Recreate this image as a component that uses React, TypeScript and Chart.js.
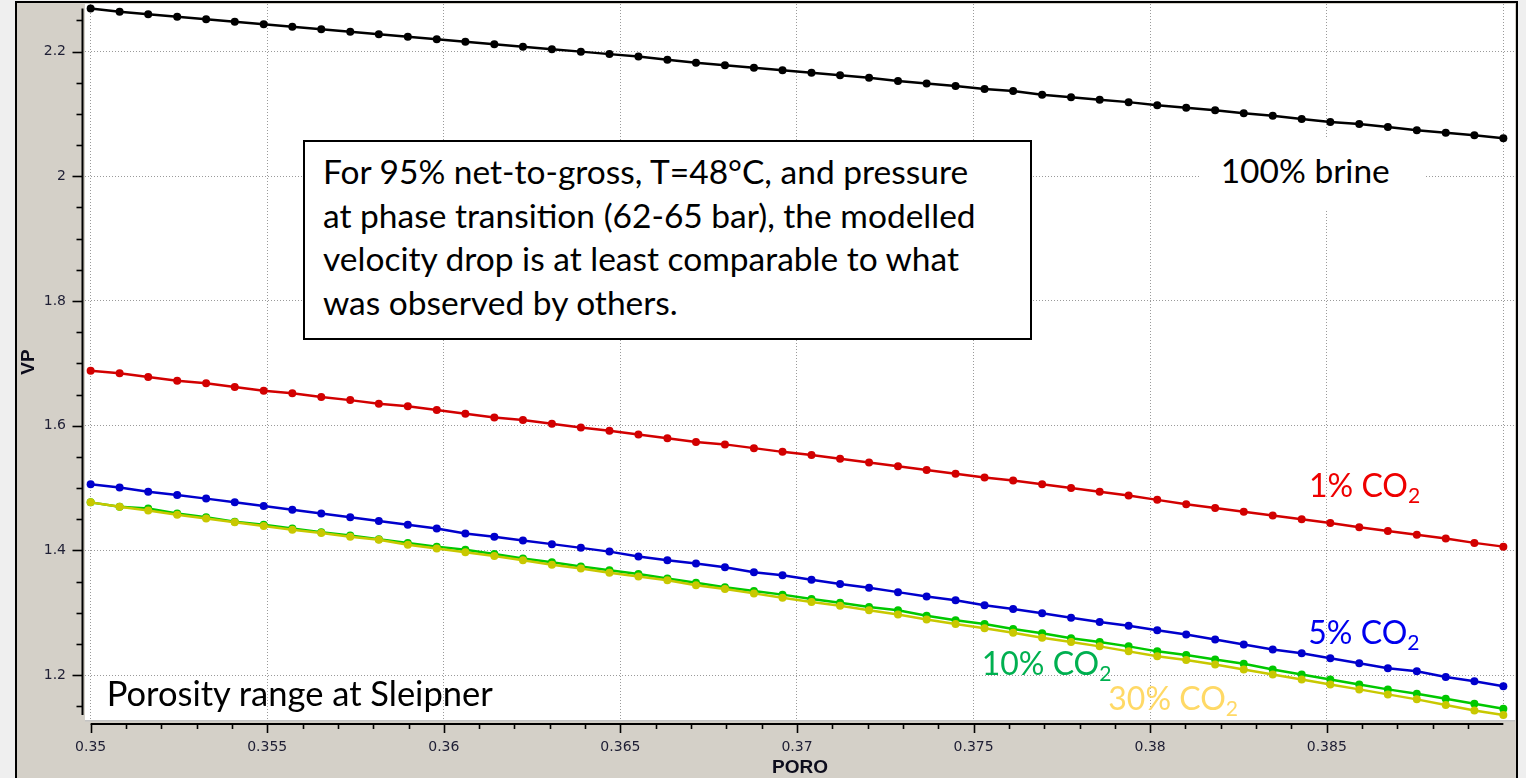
import React, { useEffect, useRef } from "react";
import { Chart, registerables } from "chart.js";

Chart.register(...registerables);

// Porosity samples (fraction), 50 points across the Sleipner range
const POROSITY = [
  0.35, 0.35082, 0.35163, 0.35245, 0.35327, 0.35408, 0.3549, 0.35571, 0.35653, 0.35735,
  0.35816, 0.35898, 0.3598, 0.36061, 0.36143, 0.36224, 0.36306, 0.36388, 0.36469, 0.36551,
  0.36633, 0.36714, 0.36796, 0.36878, 0.36959, 0.37041, 0.37122, 0.37204, 0.37286, 0.37367,
  0.37449, 0.37531, 0.37612, 0.37694, 0.37776, 0.37857, 0.37939, 0.3802, 0.38102, 0.38184,
  0.38265, 0.38347, 0.38429, 0.3851, 0.38592, 0.38673, 0.38755, 0.38837, 0.38918, 0.39,
];

// P-wave velocity (km/s) for each pore-fluid case
const VP_BRINE = [
  2.269, 2.264, 2.26, 2.256, 2.252, 2.248, 2.244, 2.24, 2.236, 2.232,
  2.228, 2.224, 2.22, 2.216, 2.212, 2.208, 2.204, 2.2, 2.196, 2.192,
  2.187, 2.182, 2.178, 2.174, 2.17, 2.166, 2.162, 2.158, 2.153, 2.149,
  2.145, 2.14, 2.137, 2.131, 2.127, 2.123, 2.119, 2.114, 2.11, 2.106,
  2.101, 2.097, 2.092, 2.087, 2.084, 2.079, 2.074, 2.07, 2.066, 2.061,
];
const VP_CO2_1 = [
  1.688, 1.684, 1.678, 1.672, 1.668, 1.662, 1.656, 1.652, 1.646, 1.641,
  1.635, 1.631, 1.625, 1.619, 1.613, 1.609, 1.603, 1.597, 1.592, 1.586,
  1.58, 1.574, 1.57, 1.564, 1.558, 1.553, 1.547, 1.541, 1.535, 1.529,
  1.523, 1.517, 1.512, 1.506, 1.5, 1.494, 1.488, 1.481, 1.474, 1.468,
  1.462, 1.456, 1.45, 1.444, 1.437, 1.431, 1.425, 1.419, 1.412, 1.406,
];
const VP_CO2_5 = [
  1.506, 1.501, 1.494, 1.489, 1.483, 1.477, 1.471, 1.465, 1.459, 1.453,
  1.447, 1.441, 1.435, 1.427, 1.422, 1.416, 1.41, 1.404, 1.398, 1.39,
  1.384, 1.379, 1.373, 1.365, 1.36, 1.353, 1.346, 1.34, 1.333, 1.326,
  1.32, 1.312, 1.306, 1.299, 1.292, 1.285, 1.279, 1.272, 1.265, 1.257,
  1.249, 1.241, 1.235, 1.227, 1.219, 1.211, 1.206, 1.197, 1.19, 1.182,
];
const VP_CO2_10 = [
  1.477, 1.47, 1.467, 1.459, 1.453, 1.446, 1.441, 1.435, 1.429, 1.424,
  1.418, 1.412, 1.406, 1.401, 1.394, 1.387, 1.381, 1.374, 1.368, 1.362,
  1.355, 1.348, 1.341, 1.335, 1.329, 1.322, 1.316, 1.309, 1.304, 1.295,
  1.288, 1.282, 1.274, 1.267, 1.259, 1.253, 1.246, 1.238, 1.232, 1.225,
  1.218, 1.209, 1.201, 1.193, 1.185, 1.177, 1.17, 1.162, 1.154, 1.146,
];
const VP_CO2_30 = [
  1.477, 1.47, 1.464, 1.457, 1.451, 1.445, 1.439, 1.433, 1.428, 1.422,
  1.417, 1.409, 1.403, 1.397, 1.391, 1.384, 1.377, 1.371, 1.364, 1.358,
  1.352, 1.344, 1.338, 1.331, 1.324, 1.317, 1.311, 1.304, 1.297, 1.289,
  1.282, 1.275, 1.268, 1.26, 1.253, 1.246, 1.238, 1.23, 1.224, 1.217,
  1.209, 1.201, 1.193, 1.185, 1.177, 1.169, 1.161, 1.152, 1.143, 1.136,
];

const SERIES_NAMES = ["100% brine", "1% CO2", "5% CO2", "10% CO2", "30% CO2"];
const SERIES_VALUES = [VP_BRINE, VP_CO2_1, VP_CO2_5, VP_CO2_10, VP_CO2_30];
const SERIES_COLORS = ["#000000", "#d20000", "#0000cc", "#00c800", "#c8c800"];

// Axis extents and tick spacing
const X_MIN = 0.34984;
const X_MAX = 0.39033;
const Y_MIN = 1.1279;
const Y_MAX = 2.2764;
const X_MAJOR = 0.005;
const X_MINOR = 0.001;
const Y_MAJOR = 0.2;
const Y_MINOR = 0.05;

const TICK_FONT = { family: "'DejaVu Sans', sans-serif", size: 14 };
const TITLE_FONT = { family: "'Liberation Sans', Arial, sans-serif", size: 19, weight: "bold" as const };
const TICK_COLOR = "#1e1e34";

// Panel background, frame and the detached axis lines with major/minor tick marks
const framePlugin = {
  id: "framePlugin",
  beforeDraw(chart: any) {
    const { ctx, chartArea: a, width, height } = chart;
    ctx.save();
    ctx.fillStyle = "#efefef";
    ctx.fillRect(0, 0, width, height);
    ctx.fillStyle = "#d4d0c8";
    ctx.fillRect(16, 2, 1501, height);
    ctx.strokeStyle = "#000";
    ctx.lineWidth = 2;
    ctx.beginPath();
    ctx.moveTo(16, height);
    ctx.lineTo(16, 2);
    ctx.lineTo(1517, 2);
    ctx.lineTo(1517, height);
    ctx.stroke();
    ctx.fillStyle = "#ffffff";
    ctx.fillRect(a.left, a.top, a.right - a.left, a.bottom - a.top);
    ctx.fillStyle = "#c4c4c4";
    ctx.fillRect(a.left, a.bottom, a.right - a.left, 1.5);
    ctx.restore();
  },
  afterDraw(chart: any) {
    const { ctx } = chart;
    const xs = chart.scales.x;
    const ys = chart.scales.y;
    const xLo = Math.min(...POROSITY);
    const xHi = Math.max(...POROSITY);
    const allY = SERIES_VALUES.flat();
    const yLo = Math.min(...allY);
    const yHi = Math.max(...allY);
    const eps = 1e-9;
    ctx.save();
    ctx.strokeStyle = "#000";
    ctx.lineWidth = 2;

    // vertical axis
    const axX = 82.5;
    ctx.beginPath();
    ctx.moveTo(axX, ys.getPixelForValue(yHi));
    ctx.lineTo(axX, ys.getPixelForValue(yLo));
    ctx.stroke();
    ctx.lineWidth = 1.6;
    const ratioY = Math.round(Y_MAJOR / Y_MINOR);
    for (let k = Math.ceil(yLo / Y_MINOR - eps); k * Y_MINOR <= yHi + eps; k++) {
      const py = Math.round(ys.getPixelForValue(k * Y_MINOR)) + 0.5;
      const len = k % ratioY === 0 ? 10 : 6;
      ctx.beginPath();
      ctx.moveTo(axX, py);
      ctx.lineTo(axX - len, py);
      ctx.stroke();
    }

    // horizontal axis
    const axY = 724;
    ctx.lineWidth = 2;
    ctx.beginPath();
    ctx.moveTo(xs.getPixelForValue(xLo), axY);
    ctx.lineTo(xs.getPixelForValue(xHi), axY);
    ctx.stroke();
    ctx.lineWidth = 1.6;
    const ratioX = Math.round(X_MAJOR / X_MINOR);
    for (let k = Math.ceil(xLo / X_MINOR - eps); k * X_MINOR < xHi - eps; k++) {
      const px = Math.round(xs.getPixelForValue(k * X_MINOR)) + 0.5;
      const len = k % ratioX === 0 ? 9 : 5;
      ctx.beginPath();
      ctx.moveTo(px, axY);
      ctx.lineTo(px, axY + len);
      ctx.stroke();
    }
    ctx.restore();
  },
};

function fmt(v: number) {
  return String(Number(v.toFixed(4)));
}

function VelocityChart() {
  const ref = useRef<HTMLCanvasElement | null>(null);

  useEffect(() => {
    if (!ref.current) return;
    const datasets = SERIES_NAMES.map((name, i) => ({
      label: name,
      data: POROSITY.map((x, j) => ({ x, y: SERIES_VALUES[i][j] })),
      borderColor: SERIES_COLORS[i],
      backgroundColor: SERIES_COLORS[i],
      pointBackgroundColor: SERIES_COLORS[i],
      pointBorderWidth: 0,
      pointRadius: 4,
      borderWidth: 2.5,
      tension: 0,
      fill: false,
      order: SERIES_NAMES.length - i,
    }));

    const chart = new Chart(ref.current, {
      type: "line",
      data: { datasets },
      plugins: [framePlugin],
      options: {
        animation: false,
        responsive: false,
        devicePixelRatio: 1,
        layout: { padding: { left: 0, top: 3, right: 11, bottom: 0 } },
        plugins: { legend: { display: false }, tooltip: { enabled: false } },
        scales: {
          x: {
            type: "linear",
            min: X_MIN,
            max: X_MAX,
            afterFit(s: any) {
              s.height = 58;
              s.paddingLeft = 0;
              s.paddingRight = 0;
            },
            border: { display: false, dash: [1, 2] },
            grid: { color: "#9a9a9a", lineWidth: 1, drawTicks: false },
            ticks: {
              stepSize: X_MAJOR,
              includeBounds: false,
              autoSkip: false,
              maxRotation: 0,
              minRotation: 0,
              padding: 18.5,
              color: TICK_COLOR,
              font: TICK_FONT,
              callback: (v: any) => (Number(v) > 0.3895 ? "" : fmt(Number(v))),
            },
            title: {
              display: true,
              text: "PORO",
              color: "#0c0c1c",
              font: TITLE_FONT,
              padding: { top: 0, bottom: -1.5 },
            },
          },
          y: {
            type: "linear",
            min: Y_MIN,
            max: Y_MAX,
            afterFit(s: any) {
              s.width = 85;
              s.paddingTop = 0;
              s.paddingBottom = 0;
            },
            border: { display: false, dash: [1, 2] },
            grid: { color: "#9a9a9a", lineWidth: 1, drawTicks: false },
            ticks: {
              stepSize: Y_MAJOR,
              includeBounds: false,
              padding: 19,
              color: TICK_COLOR,
              font: TICK_FONT,
              callback: (v: any) => fmt(Number(v)),
            },
            title: {
              display: true,
              text: "VP",
              color: "#0c0c1c",
              font: TITLE_FONT,
              padding: { top: 17, bottom: 0 },
            },
          },
        },
      } as any,
    });
    return () => chart.destroy();
  }, []);

  return <canvas ref={ref} width={1526} height={778} style={{ position: "absolute", left: 0, top: 0 }} />;
}

const TEXT_FONT = "Lato, 'Open Sans', sans-serif";

function Label(props: { x: number; base: number; size: number; color: string; children: React.ReactNode }) {
  const { x, base, size, color, children } = props;
  return (
    <div
      style={{
        position: "absolute",
        left: x,
        top: base - 0.887 * size,
        fontFamily: TEXT_FONT,
        fontSize: size,
        lineHeight: `${size}px`,
        color,
        whiteSpace: "nowrap",
      }}
    >
      {children}
    </div>
  );
}

function Sub({ children }: { children: React.ReactNode }) {
  return <span style={{ fontSize: "0.66em", position: "relative", top: "0.3em", lineHeight: 0 }}>{children}</span>;
}

const NOTE_LINES = [
  "For 95% net-to-gross, T=48°C, and pressure",
  "at phase transition (62-65 bar), the modelled",
  "velocity drop is at least comparable to what",
  "was observed by others.",
];

export default function App() {
  return (
    <div style={{ position: "absolute", left: 0, top: 0, width: 1526, height: 778, overflow: "hidden" }}>
      <VelocityChart />
      <div
        style={{
          position: "absolute",
          left: 303,
          top: 140,
          width: 729,
          height: 200,
          boxSizing: "border-box",
          border: "2px solid #000",
          background: "#fff",
          paddingLeft: 18,
          paddingTop: 8.3,
          fontFamily: TEXT_FONT,
          fontSize: 33.5,
          lineHeight: "43.5px",
          color: "#000",
          whiteSpace: "nowrap",
        }}
      >
        {NOTE_LINES.map((t) => (
          <div key={t}>{t}</div>
        ))}
      </div>
      <div style={{ position: "absolute", left: 1200, top: 137, width: 226, height: 72, background: "#fff" }} />
      <Label x={1220.7} base={184} size={33.5} color="#000">100% brine</Label>
      <Label x={1309} base={497} size={32} color="#ee0000">
        1% CO<Sub>2</Sub>
      </Label>
      <Label x={1308.3} base={644} size={32} color="#0000ee">
        5% CO<Sub>2</Sub>
      </Label>
      <Label x={981.7} base={675} size={32} color="#00b050">
        10% CO<Sub>2</Sub>
      </Label>
      <Label x={1108.3} base={710} size={32} color="#ffd966">
        30% CO<Sub>2</Sub>
      </Label>
      <Label x={106.7} base={706.7} size={34.5} color="#000">Porosity range at Sleipner</Label>
    </div>
  );
}
